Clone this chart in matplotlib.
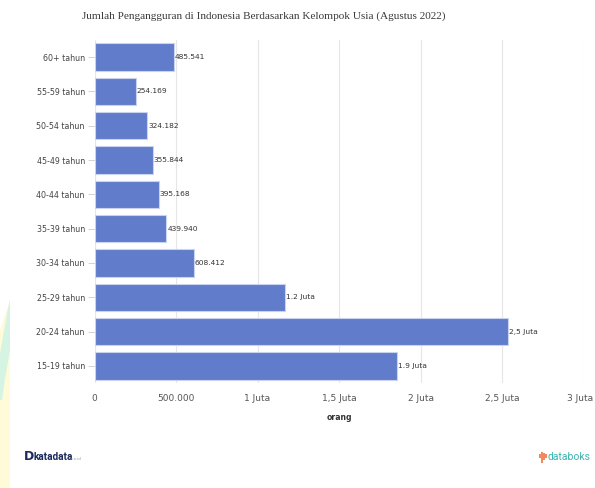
import matplotlib
matplotlib.use("Agg")
import matplotlib.pyplot as plt
import matplotlib.transforms as mtransforms
from matplotlib.patches import Rectangle, PathPatch
from matplotlib.path import Path

# Data: unemployed persons by age group, Indonesia, August 2022
categories = ["15-19 tahun", "20-24 tahun", "25-29 tahun", "30-34 tahun",
              "35-39 tahun", "40-44 tahun", "45-49 tahun", "50-54 tahun",
              "55-59 tahun", "60+ tahun"]
values = [1854000, 2539000, 1168000, 608412, 439940, 395168, 355844,
          324182, 254169, 485541]
value_labels = ["1.9 Juta", "2,5 Juta", "1.2 Juta", "608.412", "439.940",
                "395.168", "355.844", "324.182", "254.169", "485.541"]
x_ticks = [0, 500000, 1000000, 1500000, 2000000, 2500000, 3000000]
x_tick_labels = ["0", "500.000", "1 Juta", "1,5 Juta", "2 Juta", "2,5 Juta", "3 Juta"]

title = "Jumlah Pengangguran di Indonesia Berdasarkan Kelompok Usia (Agustus 2022)"

W, H = 595, 488
fig = plt.figure(figsize=(W / 100, H / 100), dpi=100)
fig.patch.set_facecolor("white")

# background decoration on the left edge
deco = fig.add_axes([0, 0, 1, 1], zorder=-5)
deco.set_xlim(0, W)
deco.set_ylim(H, 0)
deco.axis("off")
clip = Rectangle((0, 0), 10, H, transform=deco.transData)
band = Path([(0, 488), (0, 330), (4, 318), (10, 300), (10, 488), (0, 488)],
            [Path.MOVETO, Path.LINETO, Path.CURVE3, Path.CURVE3, Path.LINETO, Path.CLOSEPOLY])
deco.add_patch(PathPatch(band, fc="#fffbd8", ec="none"))
for off in (0, 16, 30):
    p = Path([(0, 400 - off), (5, 360 - off), (12, 330 - off)],
             [Path.MOVETO, Path.CURVE3, Path.CURVE3])
    pp = deco.add_patch(PathPatch(p, fc="none", ec="#d6f4e4", lw=3))
    pp.set_clip_path(clip)

left, right, top, bottom = 94.5, 583.5, 40, 383
ax = fig.add_axes([left / W, 1 - bottom / H, (right - left) / W, (bottom - top) / H])
ax.set_facecolor("none")

y = list(range(len(categories)))
ax.barh(y, values, height=0.8, color="#607cca", edgecolor="#c9d3f0",
        linewidth=0.8, zorder=3)

for yi, v, lab in zip(y, values, value_labels):
    ax.text(v + 6000, yi, lab, va="center", ha="left", fontsize=5.4,
            color="#333333", zorder=4)

ax.set_xlim(0, 3000000)
ax.set_ylim(-0.5, len(categories) - 0.5)
ax.set_xticks(x_ticks)
ax.set_xticklabels(x_tick_labels)
ax.set_yticks(y)
ax.set_yticklabels(categories)

ax.grid(axis="x", color="#e6e6e6", linewidth=0.8, zorder=0)
for s in ax.spines.values():
    s.set_visible(False)
ax.axvline(0, color="#dcdcdc", lw=0.8, zorder=1)

ax.tick_params(axis="y", length=5, width=0.6, color="#cccccc", pad=2,
               labelsize=5.7, labelcolor="#444444")
ax.tick_params(axis="x", length=0, pad=8, labelsize=6.5, labelcolor="#555555")

# nudge the last x tick label inward so it stays on the canvas
last = ax.get_xticklabels()[-1]
last.set_transform(last.get_transform() +
                   mtransforms.ScaledTranslation(-3 / 100, 0, fig.dpi_scale_trans))

ax.set_xlabel("orang", fontsize=5.6, fontweight="bold", color="#333333", labelpad=7)

fig.text(264 / W, 1 - 16 / H, title, ha="center", va="center",
         fontsize=8.1, family="Liberation Serif", color="#3a3a3a")

# footer marks
fig.text(24 / W, 1 - 457 / H, "D", fontsize=9, fontweight="bold",
         color="#1b2a5c", va="center", ha="left")
fig.text(33 / W, 1 - 457 / H, "katadata", fontsize=7.2, fontweight="bold",
         family="Roboto", color="#1b2a5c", va="center", ha="left")
fig.text(71 / W, 1 - 458.5 / H, ".co.id", fontsize=3, color="#9aa0b5",
         va="center", ha="left")

icon = fig.add_axes([539 / W, 1 - 463 / H, 8 / W, 11 / H])
icon.axis("off")
icon.set_xlim(0, 4)
icon.set_ylim(0, 4)
for xi, (y0, h) in enumerate([(1.8, 1.4), (0.0, 4.0), (1.0, 2.6), (2.0, 1.2)]):
    icon.add_patch(Rectangle((xi * 1.0 + 0.15, y0), 0.6, h, color="#f08a5d", lw=0))
fig.text(548 / W, 1 - 457 / H, "databoks", fontsize=7.5, family="Roboto",
         color="#3bb3b0", va="center", ha="left")

fig.savefig("out.png", dpi=100, facecolor="white")
